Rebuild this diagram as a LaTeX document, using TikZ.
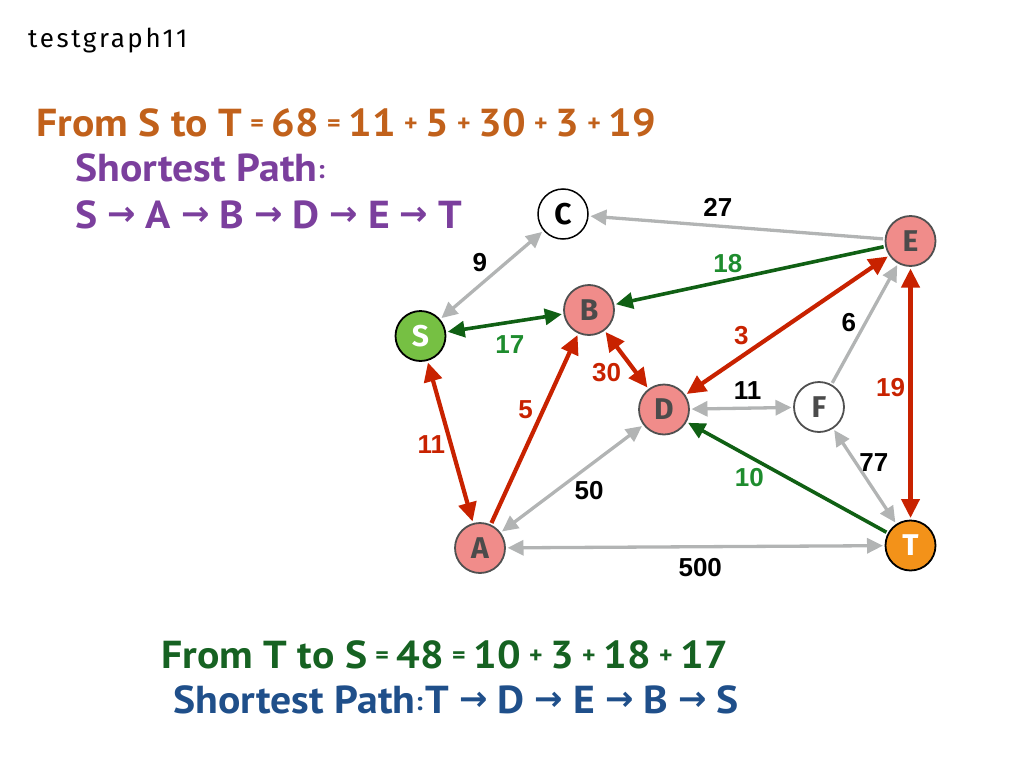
\documentclass[tikz,border=0pt]{standalone}
\usepackage{fontspec}
\setmainfont{PT Sans}[FakeStretch=1.07]
\newfontfamily\lblfont{Liberation Sans}
\newfontfamily\vfont{Fira Sans}
\newfontfamily\namefont{Fira Sans}[LetterSpace=10]
\newfontfamily\symfont{DejaVu Sans}
\usetikzlibrary{arrows.meta}
\definecolor{pinkfill}{RGB}{240,140,138}
\definecolor{sgreen}{RGB}{118,192,67}
\definecolor{torange}{RGB}{243,146,25}
\definecolor{rimgray}{RGB}{80,80,80}
\definecolor{lettergray}{RGB}{75,75,75}
\definecolor{redc}{RGB}{200,34,0}
\definecolor{greenc}{RGB}{16,96,20}
\definecolor{grayc}{RGB}{178,180,180}
\definecolor{lblgreen}{RGB}{30,140,46}
\definecolor{orangetxt}{RGB}{193,97,27}
\definecolor{purpletxt}{RGB}{123,63,157}
\definecolor{greentxt}{RGB}{22,98,34}
\definecolor{bluetxt}{RGB}{31,79,138}
\newcommand\sm[1]{\hspace{8pt}\raisebox{5pt}{\fontsize{24}{24}\selectfont #1}\hspace{8pt}}
\newcommand\cl{\raisebox{3pt}{\fontsize{26}{26}\selectfont :}}
\newcommand\ra{\hspace{10pt}\raisebox{3pt}{\symfont\fontsize{34}{34}\selectfont →}\hspace{10pt}}

\begin{document}
\begin{tikzpicture}[x=1pt, y=-1pt,
        vertex/.style={circle, draw=rimgray, line width=1.8pt, fill=pinkfill,
            minimum size=50pt, inner sep=0, outer sep=2.5pt, text=lettergray,
            font=\vfont\bfseries\fontsize{30}{30}\selectfont},
        redarc/.style={draw=redc, line width=4.2pt, >={Triangle[length=19pt, width=18pt]}},
        greenarc/.style={draw=greenc, line width=3.6pt, >={Triangle[length=17pt, width=16pt]}},
        grayarc/.style={draw=grayc, line width=3.3pt, >={Triangle[length=16pt, width=15pt]}},
        lbl/.style={inner sep=0, font=\lblfont\bfseries\fontsize{26}{26}\selectfont},
        head/.style={anchor=base west, inner sep=0, font=\bfseries\fontsize{39}{42}\selectfont}]
    \useasboundingbox (0,0) rectangle (1024,768);

    % vertices
    \node[vertex, fill=sgreen, draw=black, text=white] (S) at (420.5,336) {S};
    \node[vertex, fill=white, draw=black, text=black, line width=1.5pt] (C) at (563,214) {C};
    \node[vertex] (B) at (589,310) {B};
    \node[vertex] (D) at (664,409.5) {D};
    \node[vertex, fill=white] (F) at (819,407) {F};
    \node[vertex] (E) at (910.5,241) {E};
    \node[vertex] (A) at (480,548) {A};
    \node[vertex, fill=torange, draw=black, text=white] (T) at (910.5,545.5) {T};

    % gray arcs
    \draw[grayarc, ->] (E) -- node[lbl, shift={(-19,-20)}] {27} (C);
    \draw[grayarc, <->] (S) -- node[lbl, shift={(-12,-12)}] {9} (C);
    \draw[grayarc, <->] (D) -- node[lbl, shift={(6,-18)}] {11} (F);
    \draw[grayarc, ->] (F) -- node[lbl, shift={(-16,-1)}] {6} (E);
    \draw[grayarc, <->] (F) -- node[lbl, shift={(9,-14)}] {77} (T);
    \draw[grayarc, <->] (A) -- node[lbl, shift={(17,12)}] {50} (D);
    \draw[grayarc, <->] (A) -- node[lbl, shift={(5,21)}] {500} (T);

    % red arcs (S to T)
    \draw[redarc, <->] (S) -- node[lbl, text=redc, shift={(-19,3)}] {11} (A);
    \draw[redarc, ->] (A) -- node[lbl, text=redc, shift={(-9,-19)}] {5} (B);
    \draw[redarc, <->] (B) -- node[lbl, text=redc, shift={(-20,13)}] {30} (D);
    \draw[redarc, <->] (D) -- node[lbl, text=redc, shift={(-46,10)}] {3} (E);
    \draw[redarc, <->] (E) -- node[lbl, text=redc, shift={(-20,-6)}] {19} (T);

    % green arcs (T to S)
    \draw[greenarc, ->] (T) -- node[lbl, text=lblgreen, shift={(-38,0)}] {10} (D);
    \draw[greenarc, ->] (E) -- node[lbl, text=lblgreen, shift={(-22,-12)}] {18} (B);
    \draw[greenarc, <->] (S) -- node[lbl, text=lblgreen, shift={(5,22)}] {17} (B);

    % texts
    \node[anchor=base west, inner sep=0, font=\namefont\fontsize{26}{26}\selectfont] (name) at (28,48) {testgraph11};
    \node[head, text=orangetxt] (sumST) at (36,136) {From S to T\sm{=}68\sm{=}11\sm{+}5\sm{+}30\sm{+}3\sm{+}19};
    \node[head, text=purpletxt] (pathST) at (75,181) {Shortest Path\cl};
    \node[head, text=purpletxt] (seqST) at (75,228) {S\ra A\ra B\ra D\ra E\ra T};
    \node[head, text=greentxt] (sumTS) at (161,668) {From T to S\sm{=}48\sm{=}10\sm{+}3\sm{+}18\sm{+}17};
    \node[head, text=bluetxt] (pathTS) at (173,713) {Shortest Path\cl\hspace{3pt}T\ra D\ra E\ra B\ra S};
\end{tikzpicture}
\end{document}
